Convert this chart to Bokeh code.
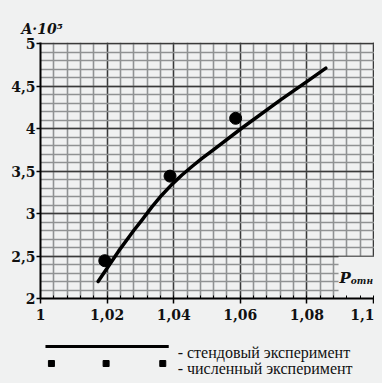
import numpy as np
from bokeh.plotting import figure
from bokeh.models import FixedTicker, CustomJSTickFormatter, Range1d
from bokeh.layouts import column
from bokeh.embed import file_html
from bokeh.resources import INLINE
from bokeh.core.properties import value

# ---- data ----
x_ticks = [1.0, 1.02, 1.04, 1.06, 1.08, 1.1]
x_tick_labels = ["1", "1,02", "1,04", "1,06", "1,08", "1,1"]
y_ticks = [2.0, 2.5, 3.0, 3.5, 4.0, 4.5, 5.0]
y_tick_labels = ["2", "2,5", "3", "3,5", "4", "4,5", "5"]

# bench experiment (solid curve)
bench_p = [1.0173, 1.0235, 1.0280, 1.0304, 1.0334, 1.0364, 1.0394, 1.0424, 1.0454,
           1.0484, 1.0523, 1.0603, 1.0722, 1.0803, 1.0857]
bench_a = [2.20, 2.56, 2.80, 2.92, 3.075, 3.215, 3.34, 3.45, 3.55,
           3.645, 3.76, 4.00, 4.34, 4.56, 4.71]
# numerical experiment (points)
num_p = [1.0193, 1.0389, 1.0586]
num_a = [2.445, 3.44, 4.12]

y_title = "A·10⁵"
x_title = ["P", "отн"]
legend_labels = ["- стендовый эксперимент", "- численный эксперимент"]

BG = "#f0f1f1"
SERIF = "DejaVu Serif"
INK = "#111111"

x_minor = list(np.round(np.arange(1.0, 1.1001, 0.004), 4))
y_minor = list(np.round(np.arange(2.0, 5.0001, 0.1), 2))

fmt_code = """
let best = 0;
for (let i = 0; i < tv.length; i++) {
  if (Math.abs(tv[i] - tick) < Math.abs(tv[best] - tick)) best = i;
}
return tl[best];
"""

W = 366

# ---- main chart ----
p = figure(width=W, height=327,
           x_range=Range1d(1.0, 1.1003), y_range=Range1d(2.0, 5.012),
           output_backend="svg", toolbar_location=None,
           background_fill_color=BG, border_fill_color=BG,
           min_border_left=30, min_border_right=0,
           min_border_top=34, min_border_bottom=37,
           outline_line_color=None)

p.title.text = y_title
p.title.align = "left"
p.title.offset = -19
p.title.standoff = 11
p.title.text_font = SERIF
p.title.text_font_style = "bold italic"
p.title.text_font_size = "14px"
p.title.text_color = INK

p.xgrid.ticker = FixedTicker(ticks=x_ticks, minor_ticks=x_minor)
p.ygrid.ticker = FixedTicker(ticks=y_ticks, minor_ticks=y_minor)
for g in (p.xgrid, p.ygrid):
    g.grid_line_color = "#3a3a3a"
    g.grid_line_width = 1.3
    g.minor_grid_line_color = "#909293"
    g.minor_grid_line_width = 1.6

p.xaxis.ticker = FixedTicker(ticks=x_ticks, minor_ticks=x_minor)
p.yaxis.ticker = FixedTicker(ticks=y_ticks, minor_ticks=y_minor)
p.xaxis.formatter = CustomJSTickFormatter(args=dict(tv=x_ticks, tl=x_tick_labels), code=fmt_code)
p.yaxis.formatter = CustomJSTickFormatter(args=dict(tv=y_ticks, tl=y_tick_labels), code=fmt_code)
for ax in (p.xaxis, p.yaxis):
    ax.axis_line_color = "black"
    ax.axis_line_width = 2
    ax.major_tick_line_color = "black"
    ax.major_tick_line_width = 1.5
    ax.major_tick_in = 0
    ax.major_label_text_font = SERIF
    ax.major_label_text_font_style = "bold"
    ax.major_label_text_font_size = "14px"
    ax.major_label_text_color = INK
p.xaxis.major_tick_out = 5
p.xaxis.minor_tick_in = 3
p.xaxis.minor_tick_out = 0
p.xaxis.minor_tick_line_color = "black"
p.xaxis.major_label_standoff = 5
p.yaxis.major_tick_out = 4
p.yaxis.minor_tick_in = 0
p.yaxis.minor_tick_out = 0
p.yaxis.major_label_standoff = 1

# blank corner behind the x-axis title
p.quad(left=[1.0895], right=[1.1003], bottom=[2.0], top=[2.49],
       fill_color=BG, line_color=None)

p.line(bench_p, bench_a, line_width=3.5, line_color="black",
       line_cap="round", line_join="round")
p.scatter(num_p, num_a, size=12, fill_color="black", line_color="black")

p.text(x=[1.0898], y=[2.247], text=[x_title[0]], text_font=value(SERIF),
       text_font_style="bold italic", text_font_size="15px",
       text_color=INK, text_baseline="alphabetic")
p.text(x=[1.0932], y=[2.21], text=[x_title[1]], text_font=value(SERIF),
       text_font_style="bold italic", text_font_size="9px",
       text_color=INK, text_baseline="alphabetic")

# ---- legend strip (frame aligned with the chart frame: page px 38..374) ----
lg = figure(width=W, height=40, x_range=Range1d(38, 374), y_range=Range1d(40, 0),
            output_backend="svg", toolbar_location=None,
            x_axis_type=None, y_axis_type=None,
            background_fill_color=BG, border_fill_color=BG,
            outline_line_color=None, min_border=0)
lg.grid.visible = False
lg.line([43, 167], [11, 11], line_width=3, line_color="black")
lg.scatter([49, 104, 161], [28, 28, 28], marker="square", size=6,
           fill_color="black", line_color="black")
lg.text(x=[176, 176], y=[17, 33], text=legend_labels,
        text_font=value("Liberation Serif"), text_font_size="16px",
        text_color=INK, text_baseline="alphabetic")

layout = column(p, lg, spacing=0)
html = file_html(layout, INLINE)
style = ("<style>html,body{overflow:hidden !important;}"
         "body{margin:8px;background-color:#f0f1f1;}</style></head>")
html = html.replace("</head>", style, 1)
open("out.html", "w").write(html)
